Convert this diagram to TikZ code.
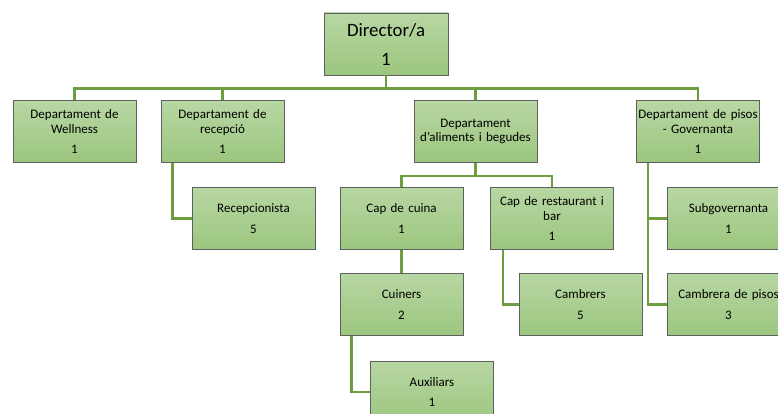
\documentclass[tikz,border=0pt]{standalone}
\usepackage{fontspec}
\setmainfont{Carlito}
\usepackage{tikz}
\definecolor{caixasup}{RGB}{183,215,163}
\definecolor{caixainf}{RGB}{156,198,127}
\definecolor{vora}{RGB}{95,95,95}
\definecolor{verdlinia}{RGB}{108,157,62}
\tikzstyle{carrec}=[draw=vora, line width=0.9pt, top color=caixasup,
  bottom color=caixainf, minimum width=123pt, minimum height=62pt,
  text width=121pt, align=center, inner sep=0pt,
  font=\fontsize{13}{14.5}\selectfont]
\tikzstyle{director}=[carrec, minimum width=124pt,
  font=\fontsize{18.8}{22}\selectfont]
\tikzstyle{line}=[draw=verdlinia, line width=2.4pt]
\newcommand{\carrec}[4]{node (#1) [carrec] at (#2) {#3\\[6pt]#4}}

\begin{document}
\begin{tikzpicture}[x=1pt,y=-1pt]
  \useasboundingbox (0,0) rectangle (778,414);
  \clip (0,0) rectangle (778,414);

  % Draw diagram elements
  \node (dir) [director] at (386,44) {Director/a\\[7pt]1};
  \path \carrec{well}{74.5,131.5}{Departament de\\Wellness}{1};
  \path \carrec{recep}{222.5,131.5}{Departament de\\recepció}{1};
  \node (alim) [carrec] at (475.5,131.5) {Departament\\d'aliments i begudes};
  \path \carrec{pisos}{698,131.5}{Departament de pisos\\- Governanta}{1};
  \path \carrec{recpta}{253.5,218.5}{Recepcionista}{5};
  \path \carrec{cuina}{401.5,218.5}{Cap de cuina}{1};
  \path \carrec{rest}{552,218.5}{Cap de restaurant i\\bar}{1};
  \path \carrec{subg}{728.5,218.5}{Subgovernanta}{1};
  \path \carrec{cuiners}{401.5,304.5}{Cuiners}{2};
  \path \carrec{cambr}{580.5,304.5}{Cambrers}{5};
  \path \carrec{cambp}{728.5,304.5}{Cambrera de pisos}{3};
  \path \carrec{aux}{432,392}{Auxiliars}{1};

  % Connectors
  \path [line] (dir.south) -- ++(0,13) -| (well.north);
  \path [line] (dir.south) -- ++(0,13) -| (recep.north);
  \path [line] (dir.south) -- ++(0,13) -| (alim.north);
  \path [line] (dir.south) -- ++(0,13) -| (pisos.north);
  \path [line] ([xshift=12pt]recep.south west) |- (recpta.west);
  \path [line] (alim.south) -- ++(0,13) -| (cuina.north);
  \path [line] (alim.south) -- ++(0,13) -| (rest.north);
  \path [line] (cuina.south) -- (cuiners.north);
  \path [line] ([xshift=12pt]cuiners.south west) |- (aux.west);
  \path [line] ([xshift=13pt]rest.south west) |- (cambr.west);
  \path [line] ([xshift=12pt]pisos.south west) |- (subg.west);
  \path [line] ([xshift=12pt]pisos.south west) |- (cambp.west);
\end{tikzpicture}
\end{document}
